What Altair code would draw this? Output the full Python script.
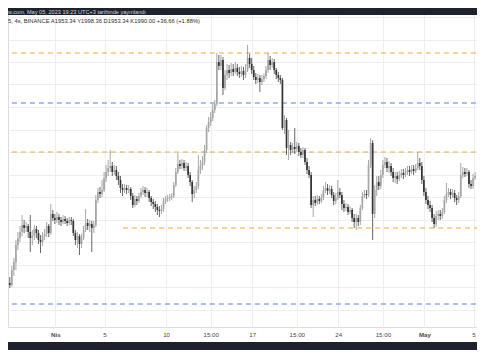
import altair as alt
import pandas as pd

# ---------------- data (4h candles) ----------------
header_text = "w.com, May 05, 2023 19:23 UTC+3 tarihinde yayınlandı"
legend_text = "5, 4s, BINANCE  A1953.34  Y1998.36  D1953.34  K1990.00  +36.66 (+1.88%)"

# first candle: 28 Mar 07:00 (UTC+3); x unit = days since 1 Apr 00:00
first_day = -3.7083333
step_day = 1 / 6

open_ = [
    1882, 1880, 1895,
    1903, 1920, 1927, 1933, 1940, 1937, 1939, 1933, 1927, 1929,
    1936, 1932, 1925, 1923, 1929, 1931, 1939, 1932, 1951, 1947,
    1945, 1948, 1945, 1943, 1946, 1944, 1942, 1945, 1944, 1932,
    1925, 1929, 1921, 1927, 1935, 1942, 1939, 1941, 1937, 1940,
    1965, 1973, 1971, 1975, 1987, 1993, 1997, 1999, 1993, 1995,
    1989, 1985, 1977, 1975, 1977, 1975, 1976, 1969, 1960, 1966,
    1964, 1969, 1973, 1975, 1972, 1973, 1967, 1963, 1961, 1958,
    1955, 1954, 1956, 1964, 1966, 1967, 1968, 1969, 1980, 1993,
    2001, 1999, 2002, 1997, 1999, 1990, 1983, 1971, 1975, 1979,
    1995, 1999, 2003, 2015, 2037, 2043, 2047, 2055, 2061, 2103,
    2099, 2105, 2077, 2090, 2095, 2092, 2096, 2093, 2097, 2093,
    2091, 2094, 2090, 2095, 2107, 2101, 2095, 2088, 2085, 2087,
    2083, 2086, 2089, 2095, 2105, 2100, 2103, 2095, 2090, 2087,
    2085, 2037, 2045, 2017, 2020, 2015, 2018, 2016, 2019, 2013,
    2010, 2015, 2003, 1995, 1990, 1960, 1965, 1962, 1966, 1964,
    1967, 1975, 1977, 1974, 1976, 1970, 1964, 1967, 1973, 1970,
    1961, 1957, 1958, 1953, 1955, 1947, 1943, 1947, 1943, 1957,
    1969, 1971, 1970, 2000, 2022, 1951, 1975, 1983, 1979, 1990,
    2000, 2003, 1997, 1999, 1993, 1987, 1989, 1986, 1990, 1992,
    1990, 1993, 1995, 1993, 1996, 1994, 1997, 2002, 1999, 1985,
    1973, 1965, 1960, 1957, 1947, 1941, 1949, 1951, 1949, 1953,
    1965, 1971, 1973, 1970, 1972, 1967, 1965, 1969, 1990, 1993,
    1991, 1993, 1981, 1979, 1987,
]
high = [
    1888, 1899, 1907,
    1925, 1933, 1939, 1950, 1945, 1943, 1941, 1950, 1935, 1940,
    1939, 1935, 1930, 1933, 1936, 1943, 1941, 1961, 1955, 1951,
    1953, 1951, 1948, 1950, 1949, 1947, 1948, 1948, 1946, 1935,
    1933, 1931, 1931, 1939, 1956, 1946, 1945, 1944, 1944, 1970,
    1977, 1978, 1985, 1993, 2000, 2005, 2015, 2003, 2000, 1999,
    1993, 1989, 1981, 1981, 1980, 1980, 1978, 1972, 1970, 1969,
    1972, 1977, 1979, 1978, 1977, 1975, 1969, 1966, 1964, 1961,
    1959, 1960, 1967, 1969, 1970, 1971, 1972, 1983, 1997, 2012,
    2005, 2006, 2005, 2003, 2002, 1993, 1985, 1979, 1983, 2010,
    2005, 2009, 2020, 2040, 2048, 2053, 2061, 2065, 2112, 2110,
    2110, 2108, 2095, 2101, 2100, 2102, 2101, 2103, 2101, 2098,
    2099, 2098, 2101, 2120, 2111, 2107, 2099, 2092, 2091, 2090,
    2090, 2092, 2099, 2112, 2109, 2107, 2106, 2097, 2093, 2090,
    2087, 2050, 2047, 2035, 2023, 2022, 2037, 2023, 2022, 2017,
    2018, 2017, 2007, 1999, 1993, 1969, 1969, 1970, 1969, 1971,
    1979, 1983, 1981, 1980, 1979, 1973, 1972, 1985, 1977, 1973,
    1965, 1962, 1961, 1959, 1957, 1951, 1951, 1950, 1960, 1973,
    1975, 1975, 2005, 2027, 2025, 1980, 1989, 1989, 1995, 2005,
    2008, 2007, 2004, 2002, 1997, 1993, 1993, 1994, 1996, 1996,
    1997, 1999, 1999, 2000, 2000, 2001, 2013, 2007, 2003, 1989,
    1977, 1969, 1964, 1960, 1951, 1954, 1955, 1955, 1957, 1969,
    1982, 1977, 1976, 1976, 1975, 1970, 1973, 2002, 1998, 1997,
    1997, 1995, 1985, 1991, 1993,
]
low = [
    1877, 1878, 1889,
    1895, 1915, 1923, 1929, 1932, 1933, 1927, 1913, 1920, 1925,
    1927, 1921, 1912, 1919, 1925, 1928, 1928, 1930, 1944, 1941,
    1942, 1940, 1939, 1941, 1941, 1939, 1940, 1940, 1929, 1920,
    1917, 1910, 1917, 1925, 1933, 1935, 1933, 1913, 1932, 1938,
    1962, 1967, 1968, 1973, 1983, 1989, 1993, 1989, 1990, 1985,
    1980, 1972, 1969, 1972, 1971, 1972, 1965, 1957, 1958, 1960,
    1962, 1967, 1970, 1968, 1968, 1963, 1959, 1956, 1953, 1950,
    1948, 1951, 1953, 1961, 1963, 1964, 1965, 1967, 1978, 1991,
    1996, 1996, 1994, 1994, 1987, 1979, 1963, 1967, 1972, 1976,
    1991, 1995, 2000, 2012, 2033, 2039, 2044, 2052, 2059, 2095,
    2095, 2070, 2075, 2085, 2087, 2089, 2089, 2091, 2089, 2087,
    2088, 2085, 2087, 2093, 2097, 2091, 2085, 2081, 2082, 2073,
    2080, 2083, 2086, 2092, 2095, 2097, 2091, 2086, 2083, 2081,
    2035, 2031, 2010, 2005, 2010, 2012, 2011, 2013, 2009, 2007,
    2007, 2000, 1991, 1987, 1957, 1948, 1959, 1960, 1961, 1962,
    1965, 1972, 1970, 1971, 1967, 1960, 1961, 1965, 1967, 1955,
    1953, 1954, 1950, 1951, 1943, 1937, 1935, 1939, 1940, 1955,
    1967, 1966, 1968, 1997, 1925, 1947, 1969, 1975, 1976, 1987,
    1997, 1993, 1992, 1989, 1983, 1982, 1981, 1984, 1987, 1986,
    1988, 1990, 1989, 1991, 1990, 1992, 1995, 1995, 1981, 1969,
    1961, 1956, 1953, 1943, 1937, 1938, 1945, 1945, 1946, 1951,
    1962, 1968, 1966, 1967, 1963, 1960, 1962, 1967, 1987, 1988,
    1989, 1977, 1976, 1976, 1985,
]
close = [
    1880, 1895, 1903,
    1920, 1927, 1933, 1940, 1937, 1939, 1933, 1927, 1929, 1936,
    1932, 1925, 1923, 1929, 1931, 1939, 1932, 1951, 1947, 1945,
    1948, 1945, 1943, 1946, 1944, 1942, 1945, 1944, 1932, 1925,
    1929, 1921, 1927, 1935, 1942, 1939, 1941, 1937, 1940, 1965,
    1973, 1971, 1975, 1987, 1993, 1997, 1999, 1993, 1995, 1989,
    1985, 1977, 1975, 1977, 1975, 1976, 1969, 1960, 1966, 1964,
    1969, 1973, 1975, 1972, 1973, 1967, 1963, 1961, 1958, 1955,
    1954, 1956, 1964, 1966, 1967, 1968, 1969, 1980, 1993, 2001,
    1999, 2002, 1997, 1999, 1990, 1983, 1971, 1975, 1979, 1995,
    1999, 2003, 2015, 2037, 2043, 2047, 2055, 2061, 2103, 2099,
    2105, 2077, 2090, 2095, 2092, 2096, 2093, 2097, 2093, 2091,
    2094, 2090, 2095, 2107, 2101, 2095, 2088, 2085, 2087, 2083,
    2086, 2089, 2095, 2105, 2100, 2103, 2095, 2090, 2087, 2085,
    2037, 2045, 2017, 2020, 2015, 2018, 2016, 2019, 2013, 2010,
    2015, 2003, 1995, 1990, 1960, 1965, 1962, 1966, 1964, 1967,
    1975, 1977, 1974, 1976, 1970, 1964, 1967, 1973, 1970, 1961,
    1957, 1958, 1953, 1955, 1947, 1943, 1947, 1943, 1957, 1969,
    1971, 1970, 2000, 2022, 1951, 1975, 1983, 1979, 1990, 2000,
    2003, 1997, 1999, 1993, 1987, 1989, 1986, 1990, 1992, 1990,
    1993, 1995, 1993, 1996, 1994, 1997, 2002, 1999, 1985, 1973,
    1965, 1960, 1957, 1947, 1941, 1949, 1951, 1949, 1953, 1965,
    1971, 1973, 1970, 1972, 1967, 1965, 1969, 1990, 1993, 1991,
    1993, 1981, 1979, 1987, 1989,
]

# horizontal levels drawn on the chart
level_price = [2112, 2062, 2013, 1937, 1861]
level_start = [-5.0, -5.0, -5.0, 5.5, -5.0]
level_end = [36.0, 36.0, 36.0, 36.0, 36.0]
level_kind = ["orange", "blue", "orange", "orange", "blue"]

# time axis
tick_days = [0, 4, 9, 12.625, 16, 19.625, 23, 26.625, 30, 34]
tick_labels = ["Nis", "5", "10", "15:00", "17", "15:00", "24", "15:00", "May", "5"]
month_labels = ["Nis", "May"]

# price grid (no price labels visible)
grid_prices = [2148, 2125.5, 2103, 2080.5, 2058, 2035.5, 2013, 1990.5,
               1968, 1945.5, 1923, 1900.5, 1878, 1855.5]

# ---------------- build ----------------
n = len(close)
assert len(open_) == n and len(high) == n and len(low) == n
df = pd.DataFrame({
    "day": [first_day + i * step_day for i in range(n)],
    "open": open_, "high": high, "low": low, "close": close,
})
lv = pd.DataFrame({"price": level_price, "x0": level_start, "x1": level_end, "kind": level_kind})

W, H = 469, 319
X_MIN, X_MAX = -3.852, 34.277
Y_MIN, Y_MAX = 1838, 2157
FONT = "Liberation Sans"
DARK = "#1e222d"
GRID = "#eceef2"

xs = alt.Scale(domain=[X_MIN, X_MAX], nice=False, zero=False, padding=0)
ys = alt.Scale(domain=[Y_MIN, Y_MAX], nice=False, zero=False, padding=0)

expr = "''"
for d, l in reversed(list(zip(tick_days, tick_labels))):
    expr = f"datum.value == {d} ? '{l}' : ({expr})"
bold_test = " || ".join(f"datum.value == {d}" for d, l in zip(tick_days, tick_labels) if l in month_labels)

x_axis = alt.Axis(values=tick_days, labelExpr=expr, grid=True, gridColor=GRID, gridWidth=1,
                  domain=False, ticks=False, labelFont=FONT, labelFontSize=6.2, labelColor="#4a4a4a",
                  labelPadding=4, labelFlush=False, labelOverlap=False,
                  labelFontWeight={"condition": {"test": bold_test, "value": "bold"}, "value": "normal"},
                  title=None)
y_axis = alt.Axis(values=grid_prices, labels=False, ticks=False, domain=False, grid=True,
                  gridColor=GRID, gridWidth=1, title=None)

up_test = "datum.close >= datum.open"

levels = alt.Chart(lv).mark_rule(strokeWidth=1, strokeDash=[5, 4], clip=True).encode(
    x=alt.X("x0:Q", scale=xs, axis=x_axis),
    x2="x1:Q",
    y=alt.Y("price:Q", scale=ys, axis=y_axis),
    color=alt.Color("kind:N", scale=alt.Scale(domain=["orange", "blue"], range=["#f6a43c", "#5080f0"]), legend=None),
)

wicks = alt.Chart(df).mark_rule(strokeWidth=0.8, clip=True).encode(
    x=alt.X("day:Q", scale=xs, axis=x_axis),
    y=alt.Y("low:Q", scale=ys, axis=y_axis),
    y2="high:Q",
    color=alt.condition(up_test, alt.value("#909090"), alt.value("#404040")),
)

bodies = alt.Chart(df).mark_bar(size=1.7, clip=True).encode(
    x=alt.X("day:Q", scale=xs, axis=x_axis),
    y=alt.Y("open:Q", scale=ys, axis=y_axis),
    y2="close:Q",
    color=alt.condition(up_test, alt.value("#a6a6a6"), alt.value("#333333")),
)

one = pd.DataFrame({"header": [header_text], "legend": [legend_text]})
top_bar = alt.Chart(one).mark_rect(color=DARK).encode(
    x=alt.value(0), x2=alt.value(W), y=alt.value(0), y2=alt.value(7))
top_text = alt.Chart(one).mark_text(align="left", baseline="middle", font=FONT, fontSize=5.6,
                                    color="#d1d4dc").encode(x=alt.value(0), y=alt.value(3.7), text="header:N")
leg_text = alt.Chart(one).mark_text(align="left", baseline="middle", font=FONT, fontSize=5.8,
                                    color="#2e2e2e").encode(x=alt.value(0), y=alt.value(12.8), text="legend:N")
bottom_bar = alt.Chart(one).mark_rect(color=DARK).encode(
    x=alt.value(0), x2=alt.value(W), y=alt.value(334), y2=alt.value(342))

chart = alt.layer(levels, wicks, bodies, top_bar, top_text, leg_text, bottom_bar).properties(
    width=W, height=H,
    autosize=alt.AutoSizeParams(type="none"),
    padding={"left": 0, "top": 0, "right": 0, "bottom": 23},
).configure_view(stroke=None).configure(background="white")

chart.save("out.html", embed_options={"renderer": "svg", "actions": False})
